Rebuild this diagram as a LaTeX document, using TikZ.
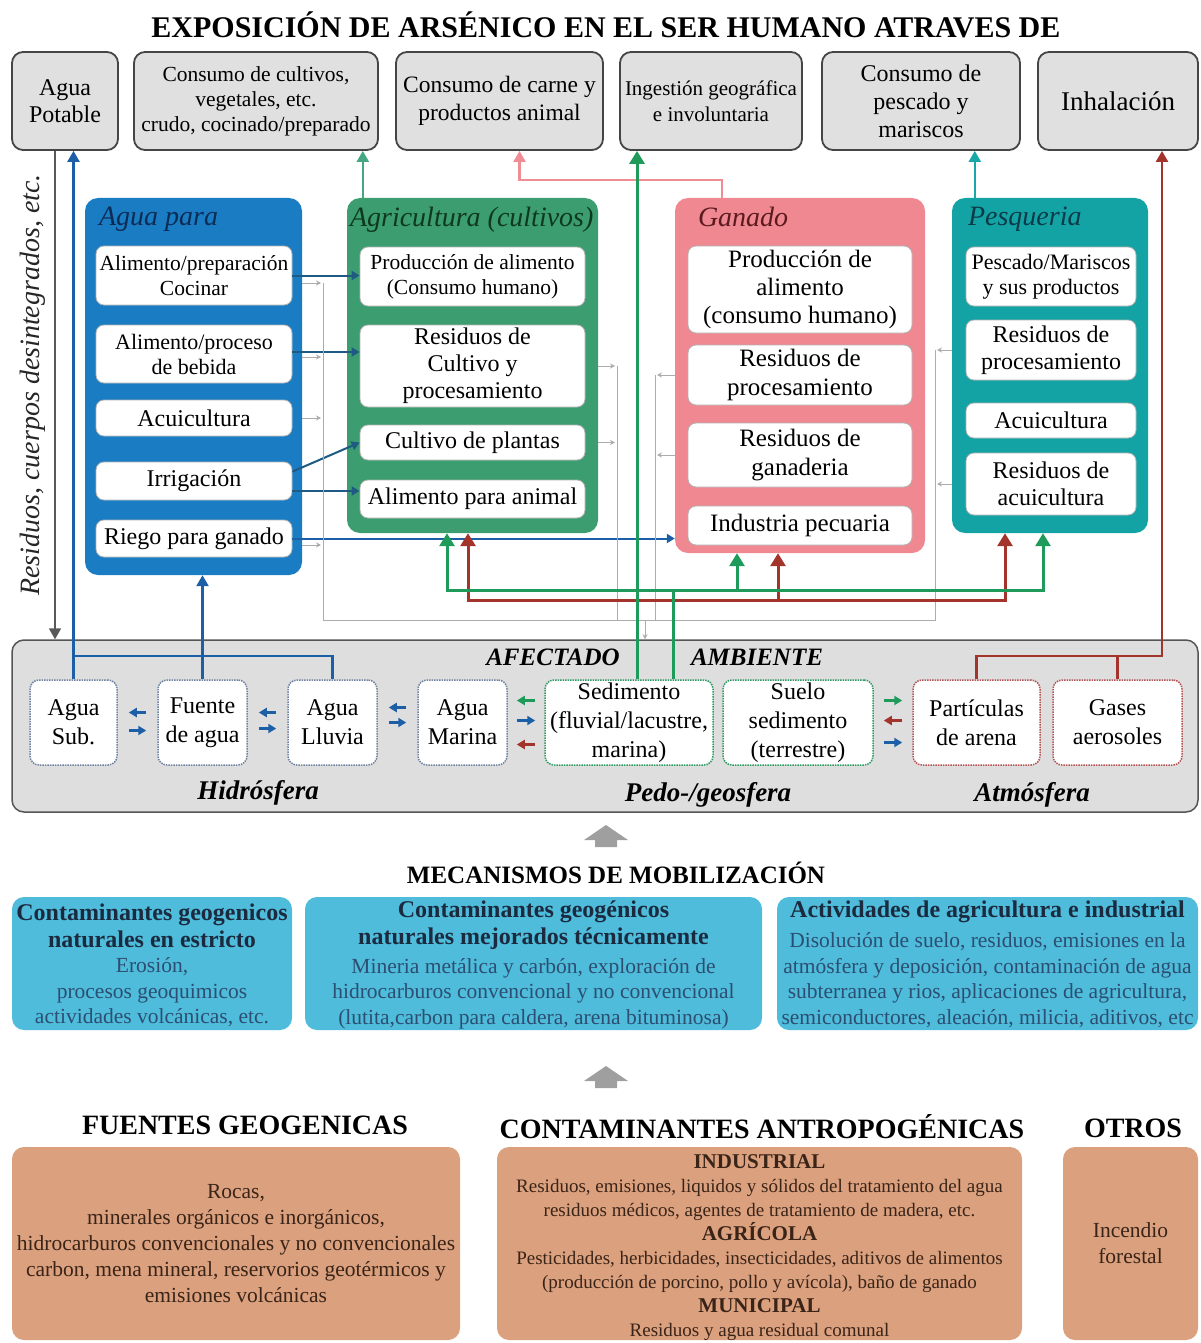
\documentclass[tikz,border=0pt]{standalone}
\usepackage{fontspec}
\setmainfont{Liberation Serif}
\usetikzlibrary{arrows.meta,positioning}
\definecolor{topfill}{HTML}{E0E0E0}
\definecolor{topedge}{HTML}{454545}
\definecolor{aguafill}{HTML}{1A7DC4}
\definecolor{aguatitle}{HTML}{0C2C55}
\definecolor{agrifill}{HTML}{3C9E70}
\definecolor{agrititle}{HTML}{0E3820}
\definecolor{ganfill}{HTML}{EF8890}
\definecolor{gantitle}{HTML}{5A1A1E}
\definecolor{pesfill}{HTML}{14A3A5}
\definecolor{pestitle}{HTML}{0B3A48}
\definecolor{ambfill}{HTML}{DEDEDE}
\definecolor{ambedge}{HTML}{555555}
\definecolor{wateredge}{HTML}{6F82A0}
\definecolor{soiledge}{HTML}{2E9A64}
\definecolor{airedge}{HTML}{B45454}
\definecolor{feedblue}{HTML}{1E5A82}
\definecolor{flowblue}{HTML}{1D5FA6}
\definecolor{flowgreen}{HTML}{1E9B5A}
\definecolor{flowred}{HTML}{A3342C}
\definecolor{flowteal}{HTML}{18A8AA}
\definecolor{flowmint}{HTML}{45A882}
\definecolor{flowpink}{HTML}{F08C94}
\definecolor{mobfill}{HTML}{4EBCDA}
\definecolor{mobhead}{HTML}{1B2A3F}
\definecolor{mobtext}{HTML}{2C4E72}
\definecolor{srcfill}{HTML}{DBA07E}
\definecolor{srctext}{HTML}{3A2418}
\newcommand{\fsz}[2]{\fontsize{#1}{#2}\selectfont}

\begin{document}
\begin{tikzpicture}[x=1pt, y=-1pt,
        topbox/.style={draw=topedge, line width=1.8pt, fill=topfill, rounded corners=11pt, align=center, minimum height=98pt, inner sep=1pt},
        groupbox/.style={rounded corners=13pt, inner sep=0pt},
        grouptitle/.style={anchor=north west, inner sep=0pt, font=\fsz{28}{30}\itshape},
        inbox/.style={fill=white, draw=black!30, line width=0.8pt, rounded corners=8pt, align=center, inner sep=1pt},
        envbox/.style={fill=white, rounded corners=9pt, densely dotted, line width=1.5pt, align=center, minimum height=85pt, inner sep=1pt, font=\fsz{24}{29}},
        sphere/.style={font=\fsz{27}{30}\bfseries\itshape, inner sep=0pt},
        header/.style={font=\fsz{28}{30}\bfseries, inner sep=0pt},
        mobbox/.style={fill=mobfill, rounded corners=12pt, minimum height=133pt, inner sep=0pt},
        mobtitle/.style={align=center, inner sep=0pt, text=mobhead, font=\fsz{24}{27}\bfseries},
        mobtext/.style={align=center, inner sep=0pt, text=mobtext, font=\fsz{21.5}{25.5}},
        srcbox/.style={fill=srcfill, rounded corners=12pt, minimum height=193pt, align=center, inner sep=0pt, text=srctext},
        feed/.style={draw=feedblue, line width=2pt, -{Triangle[width=9pt,length=8pt]}},
        waste/.style={draw=gray!65, line width=0.9pt},
        wastearrow/.style={waste, shorten >=2pt, -{Stealth[width=5pt,length=5pt]}},
        bigflow/.style={line width=3pt, -{Triangle[width=15pt,length=13pt]}},
        bigline/.style={line width=3pt},
        midflow/.style={line width=2.4pt, -{Triangle[width=12pt,length=11pt]}},
        mini/.style={line width=2.2pt, -{Triangle[width=9pt,length=8pt]}},
        chevron/.style={fill=gray!75},
    ]
    \useasboundingbox (0,0) rectangle (1200,1343);

    \node[header, font=\fsz{30}{32}\bfseries] (title) at (606,25) {EXPOSICIÓN DE ARSÉNICO EN EL SER HUMANO ATRAVES DE};

    \node[topbox, minimum width=106pt, font=\fsz{24}{27}] (potable) at (65,101) {Agua\\Potable};
    \node[topbox, minimum width=244pt, font=\fsz{21.5}{25}] (cultivos) at (256,101) {Consumo de cultivos,\\vegetales, etc.\\crudo, cocinado/preparado};
    \node[topbox, minimum width=207pt, font=\fsz{23.5}{28}] (carne) at (499.5,101) {Consumo de carne y\\productos animal};
    \node[topbox, minimum width=182pt, font=\fsz{21}{26}] (ingest) at (711,101) {Ingestión geográfica\\e involuntaria};
    \node[topbox, minimum width=198pt, font=\fsz{24}{28}] (pescado) at (921,101) {Consumo de\\pescado y\\mariscos};
    \node[topbox, minimum width=160pt, font=\fsz{27}{30}] (inhal) at (1118,101) {Inhalación};

    \node[rotate=90, font=\fsz{28}{30}\itshape, text=black!85] (residuos) at (33,385) {Residuos, cuerpos desintegrados, etc.};

    \node[groupbox, fill=aguafill, minimum width=217pt, minimum height=377pt] (aguaG) at (193.5,386.5) {};
    \node[grouptitle, text=aguatitle] (aguaT) at ([xshift=14pt,yshift=-9pt]aguaG.north west) {Agua para};
    \node[groupbox, fill=agrifill, minimum width=251pt, minimum height=335pt] (agriG) at (472.5,365.5) {};
    \node[grouptitle, text=agrititle] (agriT) at ([xshift=3pt,yshift=-9pt]agriG.north west) {Agricultura (cultivos)};
    \node[groupbox, fill=ganfill, minimum width=250pt, minimum height=355pt] (ganG) at (800,375.5) {};
    \node[grouptitle, text=gantitle] (ganT) at ([xshift=23pt,yshift=-9pt]ganG.north west) {Ganado};
    \node[groupbox, fill=pesfill, minimum width=196pt, minimum height=335pt] (pesG) at (1050,365.5) {};
    \node[grouptitle, text=pestitle] (pesT) at ([xshift=16pt,yshift=-9pt]pesG.north west) {Pesqueria};

    \node[inbox, minimum width=196pt, minimum height=59pt, font=\fsz{21.5}{25}] (prep) at (194,275.5) {Alimento/preparación\\Cocinar};
    \node[inbox, minimum width=196pt, minimum height=58pt, font=\fsz{22}{25}] (bebida) at (194,354) {Alimento/proceso\\de bebida};
    \node[inbox, minimum width=196pt, minimum height=36pt, font=\fsz{24}{26}] (acuiA) at (194,418) {Acuicultura};
    \node[inbox, minimum width=196pt, minimum height=38pt, font=\fsz{24}{26}] (irrig) at (194,481) {Irrigación};
    \node[inbox, minimum width=196pt, minimum height=37pt, font=\fsz{24}{26}] (riego) at (194,538.5) {Riego para ganado};

    \node[inbox, minimum width=225pt, minimum height=59pt, font=\fsz{21.5}{25}] (prodA) at (472.5,276.5) {Producción de alimento\\(Consumo humano)};
    \node[inbox, minimum width=225pt, minimum height=82pt, font=\fsz{24}{27}] (residC) at (472.5,366) {Residuos de\\Cultivo y\\procesamiento};
    \node[inbox, minimum width=225pt, minimum height=35pt, font=\fsz{24}{26}] (plantas) at (472.5,442.5) {Cultivo de plantas};
    \node[inbox, minimum width=225pt, minimum height=38pt, font=\fsz{24}{26}] (alimAn) at (472.5,499) {Alimento para animal};

    \node[inbox, minimum width=224pt, minimum height=87pt, font=\fsz{25}{28}] (prodG) at (800,289.5) {Producción de\\alimento\\(consumo humano)};
    \node[inbox, minimum width=224pt, minimum height=60pt, font=\fsz{25}{29}] (residG) at (800,375) {Residuos de\\procesamiento};
    \node[inbox, minimum width=224pt, minimum height=64pt, font=\fsz{25}{29}] (ganad) at (800,455) {Residuos de\\ganaderia};
    \node[inbox, minimum width=224pt, minimum height=39pt, font=\fsz{25}{28}] (pecuar) at (800,525.5) {Industria pecuaria};

    \node[inbox, minimum width=170pt, minimum height=59pt, font=\fsz{22}{25}] (pesc) at (1051,276.5) {Pescado/Mariscos\\y sus productos};
    \node[inbox, minimum width=170pt, minimum height=60pt, font=\fsz{24}{27}] (residP) at (1051,350) {Residuos de\\procesamiento};
    \node[inbox, minimum width=170pt, minimum height=35pt, font=\fsz{24}{26}] (acuiP) at (1051,420.5) {Acuicultura};
    \node[inbox, minimum width=170pt, minimum height=62pt, font=\fsz{24}{27}] (residAc) at (1051,484) {Residuos de\\acuicultura};

    \node[draw=ambedge, line width=1.5pt, fill=ambfill, rounded corners=12pt, minimum width=1186pt, minimum height=172pt] (amb) at (605,726) {};
    \node[sphere, font=\fsz{25}{28}\bfseries\itshape] (afect) at (553,657) {AFECTADO};
    \node[sphere, font=\fsz{25}{28}\bfseries\itshape] (ambiente) at (757,657) {AMBIENTE};
    \node[sphere] (hidro) at (258,793) {Hidrósfera};
    \node[sphere] (pedo) at (708,795) {Pedo-/geosfera};
    \node[sphere] (atmos) at (1032,795) {Atmósfera};

    \node[envbox, draw=wateredge, minimum width=87pt] (sub) at (73.5,722.5) {Agua\\Sub.};
    \node[envbox, draw=wateredge, minimum width=89pt] (fuente) at (202.5,722.5) {Fuente\\de agua};
    \node[envbox, draw=wateredge, minimum width=89pt] (lluvia) at (332.5,722.5) {Agua\\Lluvia};
    \node[envbox, draw=wateredge, minimum width=89pt] (marina) at (462.5,722.5) {Agua\\Marina};
    \node[envbox, draw=soiledge, minimum width=168pt] (sedim) at (629,722.5) {Sedimento\\(fluvial/lacustre,\\marina)};
    \node[envbox, draw=soiledge, minimum width=150pt] (suelo) at (798,722.5) {Suelo\\sedimento\\(terrestre)};
    \node[envbox, draw=airedge, minimum width=127pt] (partic) at (976.5,722.5) {Partículas\\de arena};
    \node[envbox, draw=airedge, minimum width=129pt] (gases) at (1117.5,722.5) {Gases\\aerosoles};

    \draw[feed] (prep.east) -- (prep.east -| prodA.west);
    \draw[feed] ([yshift=2pt]bebida.east) -- ([yshift=2pt]bebida.east -| residC.west);
    \draw[feed] ([yshift=-10pt]irrig.north east) -- (plantas.west);
    \draw[feed] ([yshift=-10pt]irrig.east) -- ([yshift=-10pt]irrig.east -| alimAn.west);
    \draw[feed, draw=flowblue] (riego.east) -- (riego.east -| ganG.west);

    \coordinate (wA) at (323,620);
    \coordinate (wG) at (617,620);
    \coordinate (wN) at (655,620);
    \coordinate (wP) at (935,620);
    \coordinate (wD) at (645,620);
    \draw[waste] ([yshift=-7.5pt]prep.east -| wA) -- (wA) -- (wP) -- (residP.west -| wP);
    \draw[waste] (residC.east -| wG) -- (wG);
    \draw[waste] (residG.west -| wN) -- (wN);
    \foreach \n/\s in {prep/-7.5, bebida/-3, acuiA/0, riego/-6.5}
        \draw[wastearrow] ([yshift=\s pt]\n.east -| aguaG.east) -- ([yshift=\s pt]\n.east -| wA);
    \foreach \n in {residC, plantas}
        \draw[wastearrow] (\n.east -| agriG.east) -- (\n.east -| wG);
    \foreach \n in {residG, ganad}
        \draw[wastearrow] (\n.west -| ganG.west) -- (\n.west -| wN);
    \foreach \n in {residP, residAc}
        \draw[wastearrow] (\n.west -| pesG.west) -- (\n.west -| wP);
    \draw[wastearrow, shorten >=0pt] (wD) -- (wD |- amb.north);

    \draw[midflow, draw=flowmint] ([xshift=16pt]agriG.north west) -- ([xshift=16pt]agriG.north west |- cultivos.south);
    \draw[midflow, draw=flowpink] ([xshift=47pt]ganG.north west) -- ++(0,-18) -| ([xshift=20pt]carne.south);
    \draw[midflow, draw=flowteal] ([xshift=23pt]pesG.north west) -- ([xshift=23pt]pesG.north west |- pescado.south);

    \coordinate (gL) at (447,590);
    \coordinate (gM) at (737,590);
    \coordinate (gR) at (1043,590);
    \coordinate (rL) at (468,600);
    \coordinate (rM) at (778,600);
    \coordinate (rR) at (1005,600);
    \draw[bigflow, draw=flowred, {Triangle[width=15pt,length=13pt]}-{Triangle[width=15pt,length=13pt]}] (rL |- agriG.south) -- (rL) -- (rR) -- (rR |- pesG.south);
    \draw[bigflow, draw=flowred] (rM) -- (rM |- ganG.south);
    \draw[bigflow, draw=flowgreen, {Triangle[width=15pt,length=13pt]}-{Triangle[width=15pt,length=13pt]}] (gL |- agriG.south) -- (gL) -- (gR) -- (gR |- pesG.south);
    \draw[bigflow, draw=flowgreen] (gM) -- (gM |- ganG.south);
    \draw[bigline, draw=flowgreen] ([xshift=44pt]sedim.north) -- ([xshift=44pt]sedim.north |- gL);
    \draw[bigflow, draw=flowgreen] ([xshift=8pt]sedim.north) -- ([xshift=8pt]sedim.north |- ingest.south);

    \draw[midflow, draw=flowred] (partic.north) -- ++(0,-23) -| ([xshift=44pt]inhal.south);
    \draw[bigline, line width=2.4pt, draw=flowred] (gases.north) -- ++(0,-23);

    \draw[midflow, draw=flowblue] (sub.north) -- (sub.north |- potable.south);
    \draw[bigline, line width=2.4pt, draw=flowblue] (sub.north) -- ++(0,-23) -| (lluvia.north);
    \draw[midflow, draw=flowblue] (fuente.north) -- (fuente.north |- aguaG.south);
    \draw[midflow, line width=1.8pt, draw=black!65] ([xshift=-10pt]potable.south) -- ([xshift=-10pt]potable.south |- amb.north);

    \draw[mini, draw=flowblue] ([xshift=-11pt,yshift=10pt]fuente.west) -- ([xshift=11pt,yshift=10pt]sub.east);
    \draw[mini, draw=flowblue] ([xshift=11pt,yshift=-8pt]sub.east) -- ([xshift=-11pt,yshift=-8pt]fuente.west);
    \draw[mini, draw=flowblue] ([xshift=-11pt,yshift=10pt]lluvia.west) -- ([xshift=11pt,yshift=10pt]fuente.east);
    \draw[mini, draw=flowblue] ([xshift=11pt,yshift=-6pt]fuente.east) -- ([xshift=-11pt,yshift=-6pt]lluvia.west);
    \draw[mini, draw=flowblue] ([xshift=-11pt,yshift=15pt]marina.west) -- ([xshift=11pt,yshift=15pt]lluvia.east);
    \draw[mini, draw=flowblue] ([xshift=11pt,yshift=0pt]lluvia.east) -- ([xshift=-11pt,yshift=0pt]marina.west);
    \draw[mini, draw=flowgreen] ([xshift=-9pt,yshift=22pt]sedim.west) -- ([xshift=9pt,yshift=22pt]marina.east);
    \draw[mini, draw=flowblue] ([xshift=9pt,yshift=2pt]marina.east) -- ([xshift=-9pt,yshift=2pt]sedim.west);
    \draw[mini, draw=flowred] ([xshift=-9pt,yshift=-22pt]sedim.west) -- ([xshift=9pt,yshift=-22pt]marina.east);
    \draw[mini, draw=flowgreen] ([xshift=10pt,yshift=22pt]suelo.east) -- ([xshift=-10pt,yshift=22pt]partic.west);
    \draw[mini, draw=flowred] ([xshift=-10pt,yshift=2pt]partic.west) -- ([xshift=10pt,yshift=2pt]suelo.east);
    \draw[mini, draw=flowblue] ([xshift=10pt,yshift=-20pt]suelo.east) -- ([xshift=-10pt,yshift=-20pt]partic.west);

    \fill[chevron] (584,840) -- (606,825) -- (628,840) -- (617,840) -- (617,847) -- (595,847) -- (595,840) -- cycle;
    \node[header, font=\fsz{25}{28}\bfseries] (mecan) at (616,873) {MECANISMOS DE MOBILIZACIÓN};

    \node[mobbox, minimum width=280pt] (mobGeo) at (152,963.5) {};
    \node[mobtitle] (mobGeoT) at (152,925.5) {Contaminantes geogenicos\\naturales en estricto};
    \node[mobtext] (mobGeoB) at (152,992.5) {Erosión,\\procesos geoquimicos\\actividades volcánicas, etc.};
    \node[mobbox, minimum width=457pt] (mobTec) at (533.5,963.5) {};
    \node[mobtitle] (mobTecT) at (533.5,925.5) {Contaminantes geogénicos\\naturales mejorados técnicamente};
    \node[mobtext] (mobTecB) at (533.5,993.5) {Mineria metálica y carbón, exploración de\\hidrocarburos convencional y no convencional\\(lutita,carbon para caldera, arena bituminosa)};
    \node[mobbox, minimum width=421pt] (mobInd) at (987.5,963.5) {};
    \node[mobtitle] (mobIndT) at (987.5,912) {Actividades de agricultura e industrial};
    \node[mobtext] (mobIndB) at (987.5,980) {Disolución de suelo, residuos, emisiones en la\\atmósfera y deposición, contaminación de agua\\subterranea y rios, aplicaciones de agricultura,\\semiconductores, aleación, milicia, aditivos, etc};

    \fill[chevron] (584,1081) -- (606,1066) -- (628,1081) -- (617,1081) -- (617,1088) -- (595,1088) -- (595,1081) -- cycle;

    \node[header] (fuentesH) at (245,1125) {FUENTES GEOGENICAS};
    \node[header] (antroH) at (762,1127) {CONTAMINANTES ANTROPOGÉNICAS};
    \node[header] (otrosH) at (1133,1128) {OTROS};

    \node[srcbox, minimum width=448pt, font=\fsz{21.5}{25.8}] (geoSrc) at (236,1243.5) {Rocas,\\minerales orgánicos e inorgánicos,\\hidrocarburos convencionales y no convencionales\\carbon, mena mineral, reservorios geotérmicos y\\emisiones volcánicas};
    \node[srcbox, minimum width=525pt, minimum height=193pt] (antroSrc) at (759.5,1243.5) {};
    \node[align=center, inner sep=0pt, text=srctext, font=\fsz{19}{24}] (antroTxt) at (759.5,1247.5) {{\fsz{21}{24}\bfseries INDUSTRIAL}\\Residuos, emisiones, liquidos y sólidos del tratamiento del agua\\residuos médicos, agentes de tratamiento de madera, etc.\\{\fsz{21}{24}\bfseries AGRÍCOLA}\\Pesticidades, herbicidades, insecticidades, aditivos de alimentos\\(producción de porcino, pollo y avícola), baño de ganado\\{\fsz{21}{24}\bfseries MUNICIPAL}\\Residuos y agua residual comunal};
    \node[srcbox, minimum width=135pt, font=\fsz{21.5}{26}] (otroSrc) at (1130.5,1243.5) {Incendio\\forestal};
\end{tikzpicture}
\end{document}
